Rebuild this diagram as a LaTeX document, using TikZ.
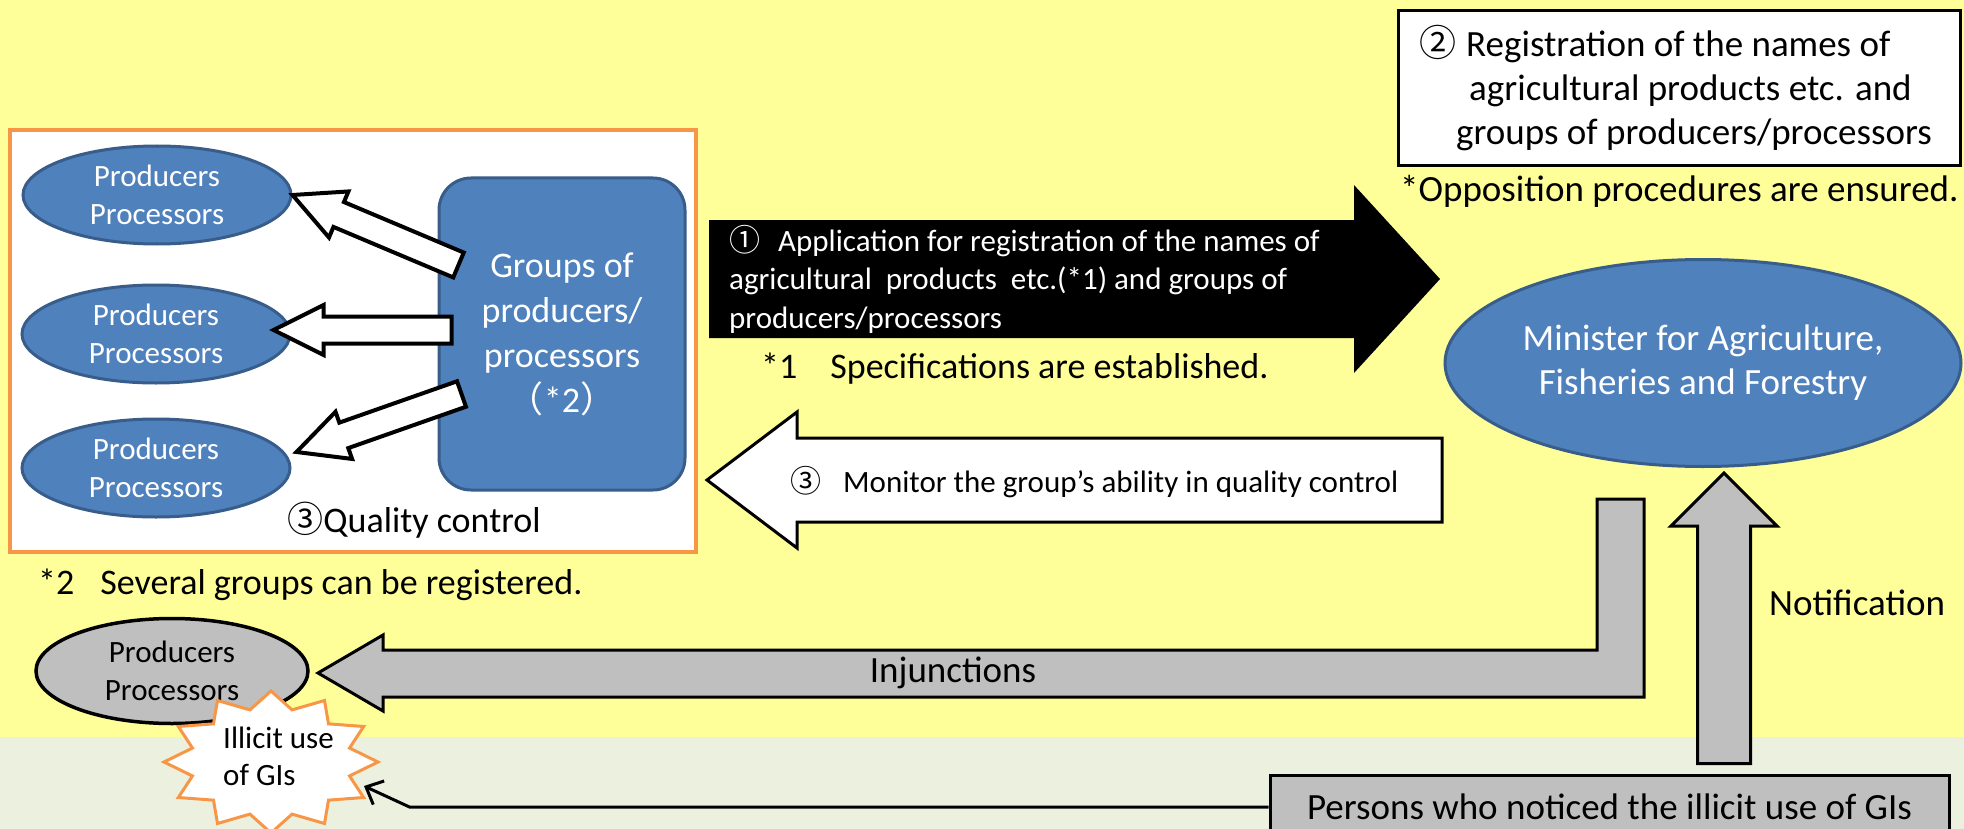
\documentclass[tikz,border=0pt]{standalone}
\usepackage{fontspec}
\setmainfont{Carlito}
\newfontfamily\cjk{Noto Sans CJK JP}
\usetikzlibrary{shapes.geometric, shapes.arrows, arrows.meta, calc}
\definecolor{paleyellow}{RGB}{255, 255, 153}
\definecolor{palegreen}{RGB}{235, 241, 222}
\definecolor{face}{RGB}{79, 129, 189}
\definecolor{rim}{RGB}{56, 93, 138}
\definecolor{frame}{RGB}{247, 150, 70}
\definecolor{shade}{RGB}{191, 191, 191}
\newcommand{\blockarrow}[3][]{
  \path let \p1=(#2), \p2=(#3), \n1={atan2(\y2-\y1,\x2-\x1)}, \n2={veclen(\x2-\x1,\y2-\y1)} in
    node[#1, rotate=\n1, minimum height=\n2, anchor=tail] at (#2) {};
}

\begin{document}
\begin{tikzpicture}[x=1pt, y=-1pt, line join=miter,
  prod/.style={ellipse, draw=rim, line width=3pt, fill=face, text=white, align=center,
    inner sep=0pt, minimum width=268pt, minimum height=98pt, font=\fontsize{31}{38}\selectfont},
  grpbox/.style={rectangle, rounded corners=32pt, draw=rim, line width=3pt, fill=face, text=white,
    align=center, minimum width=246pt, minimum height=312pt, font=\fontsize{36}{45}\selectfont},
  hollow/.style={single arrow, draw, fill=white, line width=4pt, inner xsep=0pt, inner ysep=11.5pt,
    outer sep=0pt, minimum width=46pt, single arrow head extend=11.5pt, single arrow tip angle=53},
  notify/.style={single arrow, draw, fill=shade, line width=3pt, inner xsep=0pt, inner ysep=25pt,
    outer sep=0pt, minimum width=103pt, single arrow head extend=26.5pt, single arrow tip angle=90},
  blocky/.style={draw, line width=3pt},
  txtsmall/.style={inner sep=0pt, font=\fontsize{31}{38}\selectfont},
  txtlarge/.style={inner sep=0pt, font=\fontsize{37}{44}\selectfont}]

  \useasboundingbox (0,0) rectangle (1964,829);
  \clip (0,0) rectangle (1964,829);
  \fill[paleyellow] (0,0) rectangle (1964,737);
  \fill[palegreen] (0,737) rectangle (1964,829);

  \draw[frame, fill=white, line width=4pt] (10,130) rectangle (696,552);
  \node[prod] (pp1) at (157,195) {Producers\\Processors};
  \node[prod] (pp2) at (156,334) {Producers\\Processors};
  \node[prod] (pp3) at (156,468) {Producers\\Processors};
  \node[grpbox] (grp) at (562,334) {Groups of\\producers/\\processors\\{\cjk （}*2{\cjk ）}};

  \coordinate (t1) at ($(grp.west)+(21,-69)$);
  \coordinate (t2) at ($(grp.west)+(14,-4)$);
  \coordinate (t3) at ($(grp.west)+(24,60)$);
  \coordinate (h2) at ($(pp2.east)+(-18,-4)$);
  \coordinate (h3) at ($(pp3.east)+(5,-16)$);
  \blockarrow[hollow]{t1}{pp1.east}
  \blockarrow[hollow]{t2}{h2}
  \blockarrow[hollow]{t3}{h3}
  \node[txtlarge, font=\fontsize{36}{44}\selectfont, anchor=base] (qc) at (414,532) {{\cjk ③}Quality control};
  \node[txtlarge, font=\fontsize{36}{44}\selectfont, anchor=base west] (several) at (38,594)
    {*2\hspace{26pt}Several groups can be registered.};

  \fill (709,220) -- (1354,220) -- (1354,185) -- (1440,279) -- (1354,373) -- (1354,338) -- (709,338) -- cycle;
  \node[txtsmall, text=white, anchor=west, align=left, font=\fontsize{31}{38.5}\selectfont] (app) at (729,279)
    {{\cjk ①}\hspace{18pt}Application for registration of the names of\\
     agricultural\ \ products\ \ etc.(*1) and groups of\\producers/processors};
  \node[txtlarge, font=\fontsize{36}{44}\selectfont, anchor=base west] (spec) at (761,378)
    {*1\hspace{33pt}Specifications are established.};

  \draw[blocky, fill=white] (707,480) -- (797,412) -- (797,438) -- (1442,438) -- (1442,522)
    -- (797,522) -- (797,548) -- cycle;
  \node[txtsmall, anchor=base west] (mon) at (790,492)
    {{\cjk ③}\hspace{22pt}Monitor the group’s ability in quality control};

  \node[draw, line width=3pt, fill=white, minimum width=562pt, minimum height=155pt] (reg) at (1679,88) {};
  \node[txtlarge, anchor=west, align=left] (regtext) at (1419,88)
    {{\cjk ②}\hspace{10pt}Registration of the names of\\
     \hspace*{50pt}agricultural products etc. and\\\hspace*{37pt}groups of producers/processors};
  \node[txtlarge, anchor=base west] (oppo) at (1400,202) {*Opposition procedures are ensured.};
  \node[prod, minimum width=516pt, minimum height=207pt, font=\fontsize{37}{44}\selectfont] (mafff)
    at (1703,363) {Minister for Agriculture,\\Fisheries and Forestry};

  \node[prod, draw=black, fill=shade, text=black, line width=3.5pt, minimum width=272pt,
    minimum height=105pt] (gp) at (172,671) {Producers\\Processors};
  \draw[blocky, fill=shade] (1644,499) -- (1644,697) -- (383,697) -- (383,711) -- (318,673)
    -- (383,635) -- (383,650) -- (1597,650) -- (1597,499) -- cycle;
  \node[txtlarge] (inj) at (953,673) {Injunctions};

  \draw[frame, fill=white, line width=3pt] plot[variable=\k, samples at={0,...,23}]
    ({271+107*(1-0.24*mod(\k,2))*sin(15*\k)}, {762-71*(1-0.24*mod(\k,2))*cos(15*\k)}) -- cycle;
  \node[txtsmall, anchor=west, align=left, font=\fontsize{31}{37}\selectfont] (gitext) at (223,756)
    {Illicit use\\of GIs};

  \node[blocky, fill=shade, minimum width=679pt, minimum height=64pt, txtlarge] (persons)
    at (1609.5,807) {Persons who noticed the illicit use of GIs};
  \coordinate (ntail) at ($(persons.north)+(114.5,-10)$);
  \coordinate (ntip) at ($(mafff.south)+(21,5)$);
  \blockarrow[notify]{ntail}{ntip}
  \node[txtlarge, anchor=base west] (note) at (1769,615) {Notification};

  \coordinate (gitip) at (364,786);
  \draw[line width=3pt, -{Straight Barb[length=14pt, width=26pt]}] (persons.west) -- ++(-859,0) -- (gitip);

\end{tikzpicture}
\end{document}
